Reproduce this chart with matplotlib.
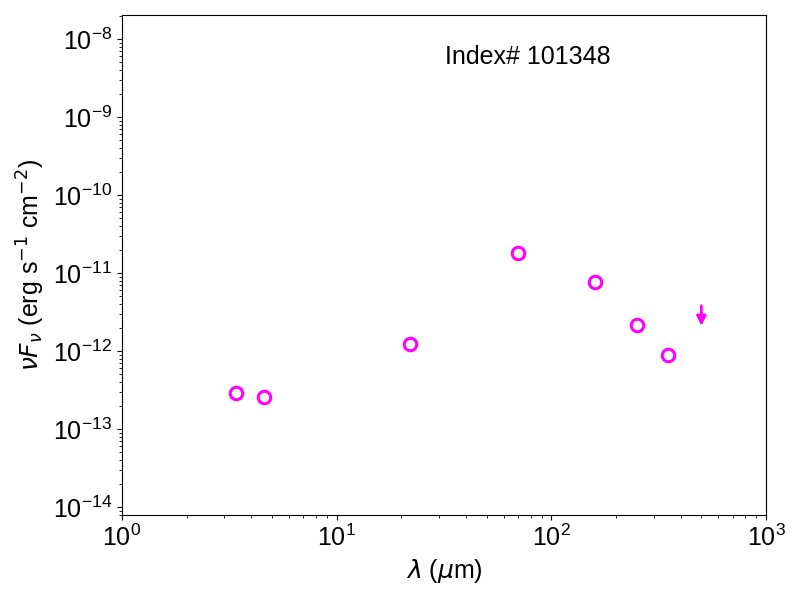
import matplotlib
matplotlib.use('Agg')
import matplotlib.pyplot as plt
import numpy as np

plt.rcParams['font.family'] = ['Liberation Sans', 'DejaVu Sans']

# photometry (micron, erg s^-1 cm^-2)
wave = [3.4, 4.6, 22, 70, 160, 250, 350]
flux = [2.9e-13, 2.57e-13, 1.23e-12, 1.8e-11, 7.7e-12, 2.15e-12, 8.9e-13]

# upper limit
ul_wave = [500]
ul_top = [3.8e-12]
ul_bottom = [2.1e-12]

fig, ax = plt.subplots(figsize=(8, 6), dpi=100)
ax.plot(wave, flux, 'o', mfc='none', mec='magenta', ms=9, mew=2.2)

for w, t, b in zip(ul_wave, ul_top, ul_bottom):
    ax.annotate('', xy=(w, b), xytext=(w, t),
                arrowprops=dict(arrowstyle='-|>', color='magenta', lw=2,
                                mutation_scale=14, shrinkA=0, shrinkB=0))

ax.set_xscale('log')
ax.set_yscale('log')
ax.set_xlim(1, 1000)
ax.set_ylim(7.9e-15, 2.03e-8)

ax.text(0.63, 0.915, 'Index# 101348', transform=ax.transAxes,
        ha='center', va='center', fontsize=18)

ax.set_xlabel(r'$\lambda$ ($\mu$m)', fontsize=18)
ax.set_ylabel(r'$\nu F_\nu$ (erg s$^{-1}$ cm$^{-2}$)', fontsize=18)
ax.tick_params(labelsize=18)

fig.subplots_adjust(left=0.1525, right=0.9575, top=0.975, bottom=0.1417)
fig.savefig('out.png', dpi=100)
